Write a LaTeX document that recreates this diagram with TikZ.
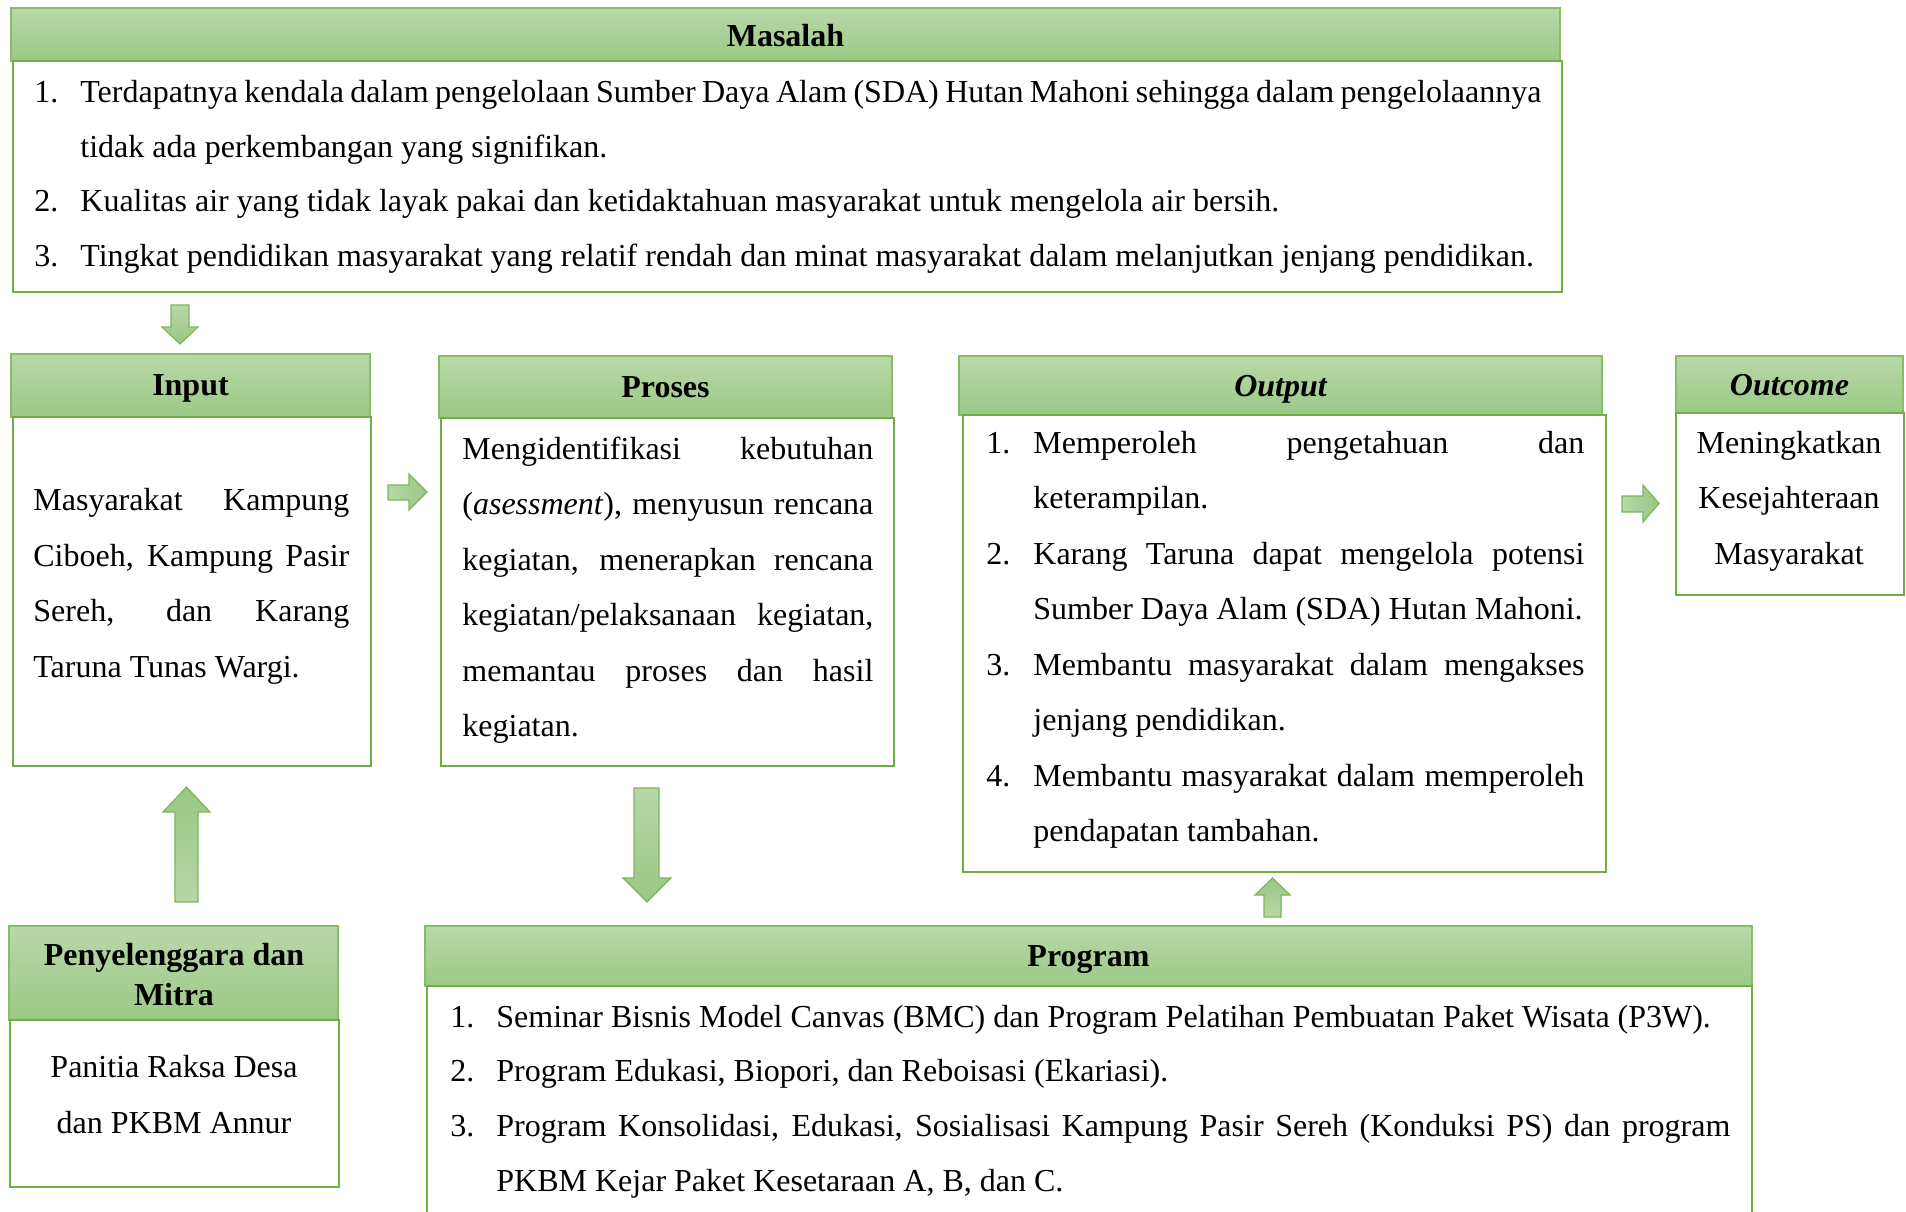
\documentclass[tikz,border=0pt]{standalone}
\usepackage{fontspec}
\setmainfont{Liberation Serif}
\usetikzlibrary{fit}
\definecolor{htop}{HTML}{B8D8AA}
\definecolor{hbot}{HTML}{9BC985}
\definecolor{hline}{HTML}{86BD66}
\definecolor{bline}{HTML}{70AD47}
\definecolor{atop}{HTML}{B7D7A8}
\definecolor{abot}{HTML}{99C783}
\definecolor{aline}{HTML}{7DB65C}
\newcommand\fs{\fontsize{16pt}{18pt}\selectfont}
\newcommand\jl[2]{\makebox[#1][s]{#2}}
\begin{document}
\begin{tikzpicture}[x=0.5pt,y=-0.5pt,
  hdr/.style={draw=hline, line width=0.8pt, top color=htop, bottom color=hbot, inner sep=0pt},
  bodybox/.style={draw=bline, line width=1.1pt, fill=white, inner sep=0pt},
  txt/.style={inner sep=0pt, anchor=base west, font=\fs},
  ctxt/.style={inner sep=0pt, anchor=base, font=\fs},
  htxt/.style={inner sep=0pt, anchor=base, font=\fs\bfseries},
  barrow/.style={draw=aline, line width=0.6pt},
  adown/.style={barrow, top color=atop, bottom color=abot},
  aup/.style={barrow, top color=abot, bottom color=atop},
  aright/.style={barrow, left color=atop, right color=abot}]
\clip (0,0) rectangle (1906,1211);
\fill[white] (0,0) rectangle (1906,1211);

% ---------- Masalah ----------
\node[hdr, fit={(11,8)(1560,61)}] (mhdr) {};
\node[htxt] (mh) at (785.5,46) {Masalah};
\node[bodybox, fit={(13,61)(1562,292)}] (mbody) {};
\node[txt] (m1n) at (34,102.5) {1.};
\node[txt] (m1a) at (80,102.5) {\jl{730.5pt}{Terdapatnya kendala dalam pengelolaan Sumber Daya Alam (SDA) Hutan Mahoni sehingga dalam pengelolaannya}};
\node[txt] (m1b) at (80,157) {tidak ada perkembangan yang signifikan.};
\node[txt] (m2n) at (34,211.5) {2.};
\node[txt] (m2a) at (80,211.5) {Kualitas air yang tidak layak pakai dan ketidaktahuan masyarakat untuk mengelola air bersih.};
\node[txt] (m3n) at (34,266) {3.};
\node[txt] (m3a) at (80,266) {Tingkat pendidikan masyarakat yang relatif rendah dan minat masyarakat dalam melanjutkan jenjang pendidikan.};

% ---------- Input ----------
\node[hdr, fit={(11,354)(370,417)}] (ihdr) {};
\node[htxt] (ih) at (190.5,395) {Input};
\node[bodybox, fit={(13,417)(371,766)}] (ibody) {};
\node[txt] (i1) at (33,510) {\jl{158pt}{Masyarakat Kampung}};
\node[txt] (i2) at (33,566) {\jl{158pt}{Ciboeh, Kampung Pasir}};
\node[txt] (i3) at (33,621) {\jl{158pt}{Sereh, dan Karang}};
\node[txt] (i4) at (33,677) {Taruna Tunas Wargi.};

% ---------- Proses ----------
\node[hdr, fit={(439,356)(892,418)}] (phdr) {};
\node[htxt] (ph) at (665.5,397) {Proses};
\node[bodybox, fit={(441,418)(894,766)}] (pbody) {};
\node[txt] (p1) at (462,459) {\jl{205.5pt}{Mengidentifikasi kebutuhan}};
\node[txt] (p2) at (462,514.5) {\jl{205.5pt}{(\textit{asessment}), menyusun rencana}};
\node[txt] (p3) at (462,570) {\jl{205.5pt}{kegiatan, menerapkan rencana}};
\node[txt] (p4) at (462,625.5) {\jl{205.5pt}{kegiatan/pelaksanaan kegiatan,}};
\node[txt] (p5) at (462,681) {\jl{205.5pt}{memantau proses dan hasil}};
\node[txt] (p6) at (462,736.5) {kegiatan.};

% ---------- Output ----------
\node[hdr, fit={(959,356)(1602,415)}] (ohdr) {};
\node[htxt, font=\fs\bfseries\itshape] (oh) at (1280.5,396) {Output};
\node[bodybox, fit={(963,415)(1606,872)}] (obody) {};
\node[txt] (o1n) at (986,453) {1.};
\node[txt] (o1a) at (1033,453) {\jl{275.5pt}{Memperoleh pengetahuan dan}};
\node[txt] (o1b) at (1033,508.5) {keterampilan.};
\node[txt] (o2n) at (986,564) {2.};
\node[txt] (o2a) at (1033,564) {\jl{275.5pt}{Karang Taruna dapat mengelola potensi}};
\node[txt] (o2b) at (1033,619.5) {Sumber Daya Alam (SDA) Hutan Mahoni.};
\node[txt] (o3n) at (986,675) {3.};
\node[txt] (o3a) at (1033,675) {\jl{275.5pt}{Membantu masyarakat dalam mengakses}};
\node[txt] (o3b) at (1033,730.5) {jenjang pendidikan.};
\node[txt] (o4n) at (986,786) {4.};
\node[txt] (o4a) at (1033,786) {\jl{275.5pt}{Membantu masyarakat dalam memperoleh}};
\node[txt] (o4b) at (1033,841.5) {pendapatan tambahan.};

% ---------- Outcome ----------
\node[hdr, fit={(1676,356)(1903,413)}] (uhdr) {};
\node[htxt, font=\fs\bfseries\itshape] (uh) at (1789.5,395) {Outcome};
\node[bodybox, fit={(1676,413)(1904,595)}] (ubody) {};
\node[ctxt] (u1) at (1789,453) {Meningkatkan};
\node[ctxt] (u2) at (1789,508) {Kesejahteraan};
\node[ctxt] (u3) at (1789,564) {Masyarakat};

% ---------- Penyelenggara dan Mitra ----------
\node[hdr, fit={(9,926)(338,1020)}] (shdr) {};
\node[htxt] (sh1) at (174,965) {Penyelenggara dan};
\node[htxt] (sh2) at (174,1005) {Mitra};
\node[bodybox, fit={(10,1020)(339,1187)}] (sbody) {};
\node[ctxt] (s1) at (174,1077) {Panitia Raksa Desa};
\node[ctxt] (s2) at (174,1133) {dan PKBM Annur};

% ---------- Program ----------
\node[hdr, fit={(425,926)(1752,986)}] (rhdr) {};
\node[htxt] (rh) at (1088.5,966) {Program};
\node[bodybox, fit={(427,986)(1752,1240)}] (rbody) {};
\node[txt] (r1n) at (450,1027.5) {1.};
\node[txt] (r1a) at (496,1027.5) {Seminar Bisnis Model Canvas (BMC) dan Program Pelatihan Pembuatan Paket Wisata (P3W).};
\node[txt] (r2n) at (450,1081.5) {2.};
\node[txt] (r2a) at (496,1081.5) {Program Edukasi, Biopori, dan Reboisasi (Ekariasi).};
\node[txt] (r3n) at (450,1136.5) {3.};
\node[txt] (r3a) at (496,1136.5) {\jl{617pt}{Program Konsolidasi, Edukasi, Sosialisasi Kampung Pasir Sereh (Konduksi PS) dan program}};
\node[txt] (r3b) at (496,1191.5) {PKBM Kejar Paket Kesetaraan A, B, dan C.};

% ---------- block arrows ----------
\path[adown] (171,305) -- (189,305) -- (189,327) -- (198,327) -- (180,344) -- (162,327) -- (171,327) -- cycle;
\path[aright] (388,485) -- (409,485) -- (409,474) -- (427,492) -- (409,510) -- (409,500) -- (388,500) -- cycle;
\path[aup] (175,902) -- (175,812) -- (163,812) -- (186.5,787) -- (210,812) -- (198,812) -- (198,902) -- cycle;
\path[adown] (634,788) -- (659,788) -- (659,878) -- (671,878) -- (647,902) -- (623,878) -- (634,878) -- cycle;
\path[aup] (1264,917) -- (1264,895) -- (1255,895) -- (1272.5,878) -- (1290,895) -- (1281,895) -- (1281,917) -- cycle;
\path[aright] (1622,496) -- (1643,496) -- (1643,485) -- (1659,503.5) -- (1643,522) -- (1643,512) -- (1622,512) -- cycle;
\end{tikzpicture}
\end{document}
